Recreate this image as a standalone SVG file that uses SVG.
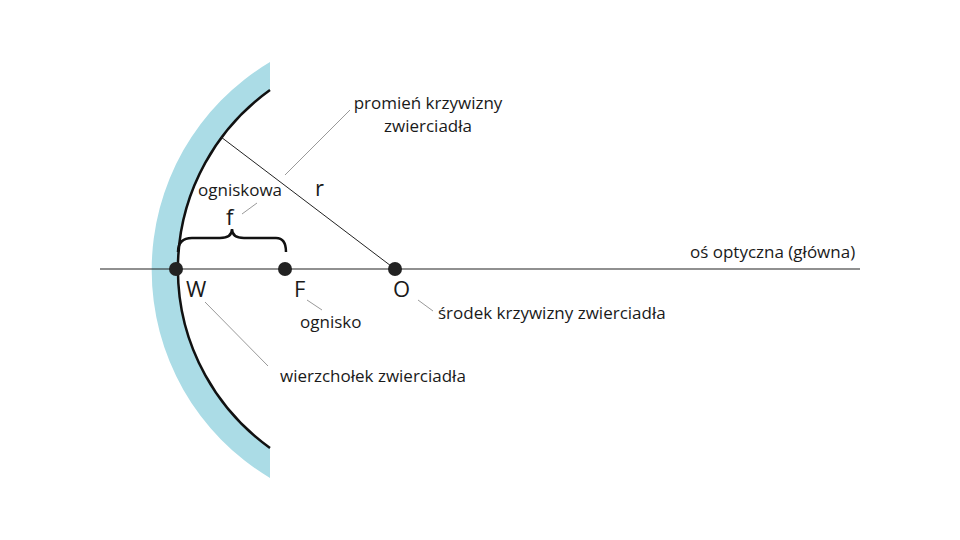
<svg xmlns="http://www.w3.org/2000/svg" width="960" height="540" viewBox="0 0 960 540">
<style>
text{font-family:"Open Sans","Liberation Sans",sans-serif;fill:#1a1a1a}
.l{font-size:17px}.b{font-size:22px}
.lead{stroke:#999;stroke-width:1;fill:none}
.dot{fill:#222}
</style>
<rect width="960" height="540" fill="#fff"/>
<g id="mirror">
<path d="M270,62 A242,242 0 0 0 270,478 L270,448 A220,220 0 0 1 270,90 Z" fill="#abdce6"/>
<path d="M270,90 A220,220 0 0 0 270,448" fill="none" stroke="#111" stroke-width="2.5"/>
</g>
<g id="connectors">
<line x1="100" y1="269" x2="860" y2="269" stroke="#222" stroke-width="1.2"/>
<line x1="395" y1="269" x2="221" y2="137" stroke="#222" stroke-width="1"/>
<path d="M178,252 Q178,238 192,238 L220,238 Q232,238 232,229 Q232,238 244,238 L276,238 Q286,238 286,252" fill="none" stroke="#111" stroke-width="2.5"/>
<line class="lead" x1="285" y1="175" x2="350" y2="110"/>
<line class="lead" x1="242" y1="214" x2="257" y2="203"/>
<line class="lead" x1="205" y1="302" x2="268" y2="366"/>
<line class="lead" x1="307" y1="300" x2="322" y2="310"/>
<line class="lead" x1="418" y1="300" x2="433" y2="311"/>
</g>
<g id="W"><circle class="dot" cx="176" cy="269" r="7"/><text class="b" x="186" y="297">W</text></g>
<g id="F"><circle class="dot" cx="285" cy="269" r="7"/><text class="b" x="294" y="297">F</text></g>
<g id="O"><circle class="dot" cx="395" cy="269" r="7"/><text class="b" x="393" y="297">O</text></g>
<g id="labels">
<text class="l" x="428" y="109" text-anchor="middle">promień krzywizny</text>
<text class="l" x="428" y="132" text-anchor="middle">zwierciadła</text>
<text class="l" x="198" y="196">ogniskowa</text>
<text class="b" x="226" y="225">f</text>
<text class="b" x="315" y="196">r</text>
<text class="l" x="690" y="258">oś optyczna (główna)</text>
<text class="l" x="300" y="328">ognisko</text>
<text class="l" x="438" y="319">środek krzywizny zwierciadła</text>
<text class="l" x="280" y="382">wierzchołek zwierciadła</text>
</g>
</svg>
